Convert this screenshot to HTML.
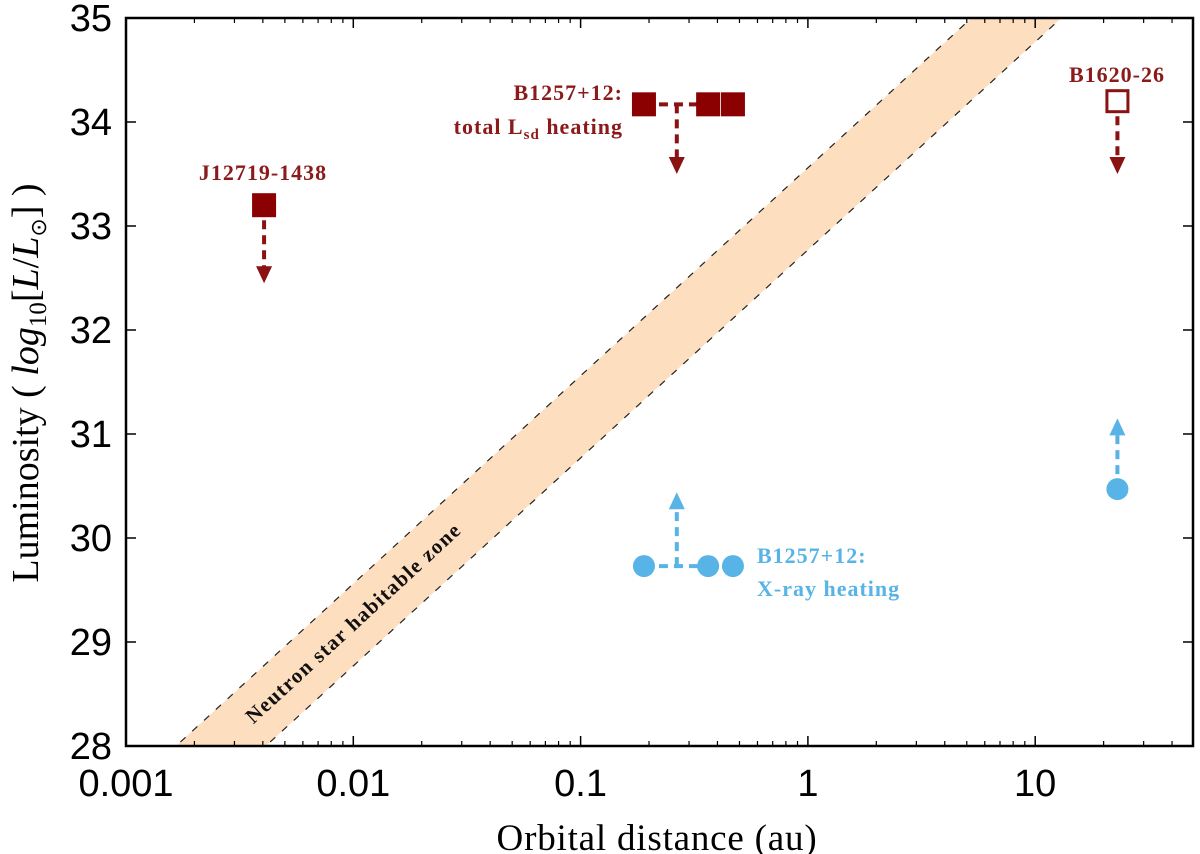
<!DOCTYPE html>
<html><head><meta charset="utf-8"><style>
html,body{margin:0;padding:0;background:#fff;}
svg{display:block;}
</style></head><body>
<svg id="chart" width="1200" height="854" xmlns="http://www.w3.org/2000/svg"></svg>
<script>
// ---- data ----
const xTicks = [0.001, 0.01, 0.1, 1, 10];
const xTickLabels = ["0.001", "0.01", "0.1", "1", "10"];
const yTicks = [28, 29, 30, 31, 32, 33, 34, 35];
const bandLowerC = 32.77;   // L = 2*log10(d) + c
const bandUpperC = 33.56;
const bandSlope = 2;
const lsdNames = ["J12719-1438", "B1257+12 b", "B1257+12 c", "B1257+12 d", "B1620-26"];
const lsdDist = [0.00405, 0.19, 0.364, 0.468, 23];
const lsdLum = [33.2, 34.17, 34.17, 34.17, 34.2];
const lsdHollow = [false, false, false, false, true];
const lsdArrowDist = [0.00405, 0.265, 23];
const lsdArrowFrom = [33.2, 34.17, 34.2];
const lsdArrowTo = [32.45, 33.5, 33.5];
const xrayDist = [0.19, 0.364, 0.468, 23];
const xrayLum = [29.73, 29.73, 29.73, 30.47];
const xrayArrowDist = [0.265, 23];
const xrayArrowFrom = [29.73, 30.47];
const xrayArrowTo = [30.44, 31.15];

// ---- axes ----
const L = 126, R = 1193, T = 18, B = 746;
const xMinLog = -3, decade = 227.3;
const X = d => L + (Math.log10(d) - xMinLog) * decade;
const Y = v => B - (v - 28) * (B - T) / 7;
const xMaxLog = xMinLog + (R - L) / decade;

const NS = "http://www.w3.org/2000/svg";
const svg = document.getElementById("chart");
function el(tag, attrs, parent) {
  const e = document.createElementNS(NS, tag);
  for (const k in attrs) e.setAttribute(k, attrs[k]);
  (parent || svg).appendChild(e);
  return e;
}
const RED = "#8B1212", BLUE = "#58B3E6";

// clip
const defs = el("defs", {});
const cp = el("clipPath", {id: "pc"}, defs);
el("rect", {x: L, y: T, width: R - L, height: B - T}, cp);

// band
const gBand = el("g", {"clip-path": "url(#pc)"});


const lx = (c, v) => L + (((v - c) / bandSlope) - xMinLog) * decade;
const pts = [[lx(bandUpperC, 27), Y(27)], [lx(bandUpperC, 36), Y(36)], [lx(bandLowerC, 36), Y(36)], [lx(bandLowerC, 27), Y(27)]];
el("polygon", {points: pts.map(p => p.join(",")).join(" "), fill: "#FDDFC0"}, gBand);
el("line", {x1: pts[0][0], y1: pts[0][1], x2: pts[1][0], y2: pts[1][1], stroke: "#222", "stroke-width": 1.2, "stroke-dasharray": "7 9"}, gBand);
el("line", {x1: pts[3][0], y1: pts[3][1], x2: pts[2][0], y2: pts[2][1], stroke: "#222", "stroke-width": 1.2, "stroke-dasharray": "7 9"}, gBand);
const bt = el("text", {x: 0, y: 0, "font-family": "Liberation Serif, serif", "font-weight": "bold", "font-size": 21, "letter-spacing": 1.3, fill: "#111", "text-anchor": "middle", transform: "translate(358,628) rotate(-42.7)"});
bt.textContent = "Neutron star habitable zone";



// frame
const frame = el("rect", {x: L, y: T, width: R - L, height: B - T, fill: "none", stroke: "#000", "stroke-width": 2.5});



// x ticks
for (let i = 0; i < xTicks.length; i++) {
  const x = X(xTicks[i]);
  el("line", {x1: x, y1: B, x2: x, y2: B - 10, stroke: "#000", "stroke-width": 1.5});
  el("line", {x1: x, y1: T, x2: x, y2: T + 10, stroke: "#000", "stroke-width": 1.5});
  const t = el("text", {x: x, y: B + 50, "font-family": "Liberation Sans, sans-serif", "font-size": 38, "text-anchor": "middle", fill: "#000"});
  t.textContent = xTickLabels[i];
  
  
}
for (let e = -3; e < 2; e++) for (let m = 2; m <= 9; m++) {
  const lg = e + Math.log10(m);
  if (lg > xMaxLog) continue;
  const x = L + (lg - xMinLog) * decade;
  el("line", {x1: x, y1: B, x2: x, y2: B - 5, stroke: "#000", "stroke-width": 1.2});
  el("line", {x1: x, y1: T, x2: x, y2: T + 5, stroke: "#000", "stroke-width": 1.2});
}
// y ticks
for (const v of yTicks) {
  const y = Y(v);
  el("line", {x1: L, y1: y, x2: L + 10, y2: y, stroke: "#000", "stroke-width": 1.5});
  el("line", {x1: R, y1: y, x2: R - 10, y2: y, stroke: "#000", "stroke-width": 1.5});
  const t = el("text", {x: 112, y: y + 13, "font-family": "Liberation Sans, sans-serif", "font-size": 38, "text-anchor": "end", fill: "#000"});
  t.textContent = v;
  
  
}
// axis titles
const xt = el("text", {x: 657, y: 850, "font-family": "Liberation Serif, serif", "font-size": 37, "letter-spacing": 0.8, "text-anchor": "middle", fill: "#000"});
xt.textContent = "Orbital distance (au)";


const yt = el("text", {x: 0, y: 0, "font-family": "Liberation Serif, serif", "font-size": 38, "text-anchor": "middle", fill: "#000", transform: "translate(38,383) rotate(-90)"});
yt.innerHTML = 'Luminosity  (  <tspan font-style="italic">log</tspan><tspan font-size="25" dy="8">10</tspan><tspan dy="-8">[</tspan><tspan font-style="italic">L</tspan>/<tspan font-style="italic">L</tspan><tspan font-size="22" dy="8">⊙</tspan><tspan dy="-8">]  )</tspan>';



// arrows
function arrow(d, from, to, color, name) {
  const g = el("g", {});
  
  
  const x = X(d), y1 = Y(from), y2 = Y(to);
  const dir = y2 > y1 ? 1 : -1;
  el("line", {x1: x, y1: y1, x2: x, y2: y2 - dir * 16, stroke: color, "stroke-width": 4, "stroke-dasharray": "9 6"}, g);
  el("polygon", {points: `${x - 8},${y2 - dir * 17} ${x + 8},${y2 - dir * 17} ${x},${y2}`, fill: color}, g);
}
for (let i = 0; i < lsdArrowDist.length; i++) arrow(lsdArrowDist[i], lsdArrowFrom[i], lsdArrowTo[i], RED, "lsd-upper-limit-arrow");
for (let i = 0; i < xrayArrowDist.length; i++) arrow(xrayArrowDist[i], xrayArrowFrom[i], xrayArrowTo[i], BLUE, "xray-lower-limit-arrow");

// connectors for B1257
const c1 = el("line", {x1: X(lsdDist[1]), y1: Y(lsdLum[1]), x2: X(lsdDist[2]), y2: Y(lsdLum[2]), stroke: RED, "stroke-width": 4, "stroke-dasharray": "9 6"});


const c2 = el("line", {x1: X(xrayDist[0]), y1: Y(xrayLum[0]), x2: X(xrayDist[1]), y2: Y(xrayLum[1]), stroke: BLUE, "stroke-width": 4, "stroke-dasharray": "9 6"});



// squares
for (let i = 0; i < lsdDist.length; i++) {
  const x = X(lsdDist[i]), y = Y(lsdLum[i]), s = 24;
  const r = lsdHollow[i]
    ? el("rect", {x: x - s / 2 + 1.5, y: y - s / 2 + 1.5, width: s - 3, height: s - 3, fill: "#fff", stroke: RED, "stroke-width": 3})
    : el("rect", {x: x - s / 2, y: y - s / 2, width: s, height: s, fill: "#8B0000"});
  
  
}
// circles
for (let i = 0; i < xrayDist.length; i++) {
  const c = el("circle", {cx: X(xrayDist[i]), cy: Y(xrayLum[i]), r: 11, fill: BLUE});
  
  
}

// annotations
function label(x, y, txt, color, anchor, name, html) {
  const t = el("text", {x: x, y: y, "font-family": "Liberation Serif, serif", "font-weight": "bold", "font-size": 22, "letter-spacing": 1, fill: color, "text-anchor": anchor});
  if (html) t.innerHTML = txt; else t.textContent = txt;
  
  
}
label(263, 180, "J12719-1438", "#8B1A1A", "middle", "label-j12719");
label(623, 100, "B1257+12:", "#8B1A1A", "end", "label-b1257-lsd");
label(623, 134, 'total L<tspan font-size="15" dy="5">sd</tspan><tspan dy="-5"> heating</tspan>', "#8B1A1A", "end", "label-total-lsd-heating", true);
label(1117, 82, "B1620-26", "#8B1A1A", "middle", "label-b1620");
label(757, 563, "B1257+12:", BLUE, "start", "label-b1257-xray");
label(757, 596, "X-ray heating", BLUE, "start", "label-xray-heating");
</script>
</body></html>
